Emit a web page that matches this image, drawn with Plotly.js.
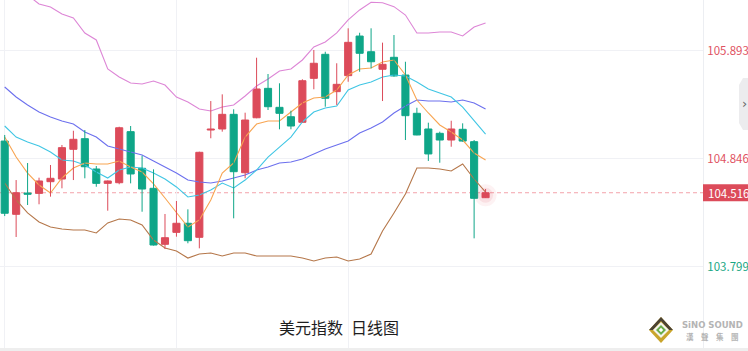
<!DOCTYPE html>
<html>
<head>
<meta charset="utf-8">
<script src="https://cdn.plot.ly/plotly-3.0.1.min.js"></script>
<style>html,body{margin:0;padding:0;background:#fff;}#chart{width:748px;height:351px;}</style>
</head>
<body>
<div id="chart"></div>
<script>
// ---- data ----
const chartTitle = "美元指数\u2002日线图";
const open  = [105.017,104.307,104.513,104.510,104.623,104.649,104.937,105.040,104.746,104.607,104.613,105.108,104.753,104.559,104.016,104.132,104.220,104.084,105.124,105.134,105.276,104.710,105.243,105.528,105.344,105.253,105.199,105.625,105.858,105.496,105.651,106.035,105.883,105.713,105.829,105.657,105.286,105.134,105.092,105.027,105.131,105.011,104.468];
const high  = [105.076,104.639,104.804,104.662,104.785,104.979,105.117,105.124,104.775,104.635,105.156,105.163,104.875,104.743,104.310,104.436,104.355,104.914,105.405,105.470,105.325,105.292,105.825,105.667,105.577,105.311,105.616,105.900,105.883,105.771,106.110,106.067,106.110,105.971,106.045,105.786,105.340,105.195,105.108,105.214,105.189,105.027,104.552];
const low   = [104.290,104.087,104.397,104.404,104.478,104.559,104.639,104.656,104.574,104.342,104.598,104.607,104.332,104.004,103.970,104.090,104.026,103.977,105.044,105.108,104.268,104.656,105.238,105.318,105.131,105.131,105.197,105.519,105.350,105.367,105.592,105.689,105.722,105.405,105.641,105.027,105.073,104.824,104.807,104.962,105.011,104.074,104.465];
const close = [104.317,104.516,104.501,104.630,104.656,104.953,105.034,104.768,104.607,104.630,105.146,104.698,104.552,104.009,104.080,104.220,104.051,104.908,105.134,105.276,104.720,105.221,105.522,105.350,105.286,105.163,105.602,105.771,105.432,105.567,105.974,105.868,105.786,105.761,105.648,105.263,105.076,104.892,105.027,105.134,105.017,104.462,104.516];
const ma5   = [105.056,104.862,104.707,104.591,104.513,104.659,104.756,104.804,104.795,104.795,104.824,104.765,104.717,104.601,104.465,104.320,104.184,104.252,104.446,104.707,104.804,105.056,105.182,105.211,105.211,105.299,105.386,105.434,105.444,105.512,105.657,105.716,105.725,105.783,105.803,105.657,105.415,105.289,105.173,105.105,105.027,104.901,104.833];
const ma10  = [105.163,105.056,105.008,104.969,104.911,104.833,104.824,104.785,104.717,104.659,104.736,104.765,104.756,104.707,104.649,104.572,104.475,104.494,104.542,104.610,104.562,104.639,104.736,104.862,104.959,105.056,105.202,105.299,105.337,105.357,105.512,105.560,105.590,105.638,105.657,105.648,105.590,105.522,105.483,105.444,105.347,105.221,105.085];
const bollMid = [105.541,105.444,105.367,105.299,105.250,105.211,105.182,105.105,105.056,104.969,104.940,104.911,104.882,104.824,104.765,104.707,104.639,104.620,104.610,104.630,104.659,104.688,104.736,104.765,104.804,104.814,104.843,104.892,104.940,104.979,105.018,105.095,105.144,105.202,105.289,105.357,105.415,105.405,105.405,105.396,105.415,105.386,105.328];
const bollUp  = [106.607,106.520,106.433,106.346,106.317,106.249,106.210,106.065,105.997,105.716,105.638,105.580,105.570,105.599,105.560,105.444,105.396,105.328,105.308,105.347,105.367,105.454,105.551,105.619,105.696,105.716,105.803,105.929,105.977,106.065,106.191,106.288,106.362,106.358,106.320,106.239,106.065,106.065,106.074,106.074,106.036,106.123,106.162];
const bollLow = [104.610,104.446,104.320,104.232,104.184,104.164,104.155,104.155,104.126,104.223,104.261,104.252,104.203,104.058,103.980,103.951,103.883,103.922,103.932,103.903,103.932,103.932,103.903,103.903,103.903,103.903,103.883,103.854,103.883,103.893,103.854,103.874,103.922,104.145,104.320,104.504,104.756,104.756,104.746,104.727,104.795,104.649,104.523];
const yTickVals = [105.893, 104.846, 103.799];
const yTickColors = ["#e05262", "#e05262", "#1aa784"];

// ---- styles ----
const RED = "#dc4b5a", GREEN = "#0fa688";
const W = 748, H = 351, ML = 0, MR = 45, MT = 0, MB = 3;
const PW = W - ML - MR, PH = H - MT - MB;
const px = x => (x - ML) / PW;          // pixel -> paper x
const py = y => (PH + MT - y) / PH;     // pixel -> paper y

const idx = open.map((_, i) => i);
const traces = [];

function lineTrace(y, color) {
  return {type: "scatter", mode: "lines", x: idx, y: y, line: {color: color, width: 1.1}, hoverinfo: "skip"};
}
traces.push(lineTrace(bollUp, "#dd86d6"));
traces.push(lineTrace(bollLow, "#b5774a"));
traces.push(lineTrace(bollMid, "#6c70ee"));
traces.push(lineTrace(ma10, "#40c6e4"));
traces.push(lineTrace(ma5, "#f8a552"));

// wicks
function wicks(up) {
  const xs = [], ys = [];
  idx.forEach(i => {
    if ((close[i] >= open[i]) === up) { xs.push(i, i, null); ys.push(low[i], high[i], null); }
  });
  return {type: "scatter", mode: "lines", x: xs, y: ys, line: {color: up ? RED : GREEN, width: 1}, hoverinfo: "skip", connectgaps: false};
}
traces.push(wicks(true));
traces.push(wicks(false));

// glow on latest candle
const last = close.length - 1;
[[22, 0.07], [15, 0.11]].forEach(([s, a]) => {
  traces.push({type: "scatter", mode: "markers", x: [last], y: [(open[last] + close[last]) / 2],
    marker: {size: s, color: "rgba(220,75,90," + a + ")", line: {width: 0}}, hoverinfo: "skip"});
});

// bodies
function bodies(up) {
  const xs = [], base = [], h = [];
  idx.forEach(i => {
    if ((close[i] >= open[i]) === up) {
      xs.push(i); base.push(Math.min(open[i], close[i])); h.push(Math.abs(close[i] - open[i]));
    }
  });
  const c = up ? RED : GREEN;
  return {type: "bar", x: xs, y: h, base: base, width: 0.62,
    marker: {color: c, line: {color: c, width: 1}}, hoverinfo: "skip"};
}
traces.push(bodies(true));
traces.push(bodies(false));

const lastClose = close[last];
const boxHalf = 8.5 * (106.3845 - 103.0108) / PH;

const shapes = [
  {type: "line", xref: "paper", yref: "y", x0: 0, x1: 1, y0: lastClose, y1: lastClose,
   line: {color: "#f3a3ab", width: 1, dash: "4px,3px"}, layer: "below"},
  {type: "rect", xref: "paper", yref: "y", x0: 1, x1: px(W + 2), y0: lastClose - boxHalf, y1: lastClose + boxHalf,
   fillcolor: RED, line: {width: 0}},
  {type: "rect", xref: "paper", yref: "paper", x0: px(0), x1: px(W + 2), y0: py(351), y1: py(348),
   fillcolor: "#eeeeee", line: {width: 0}},
  {type: "path", xref: "paper", yref: "paper",
   path: `M ${px(739)},${py(85)} L ${px(743)},${py(78)} L ${px(749)},${py(78)} L ${px(749)},${py(130)} L ${px(743)},${py(130)} L ${px(739)},${py(123)} Z`,
   fillcolor: "#ececee", line: {width: 0}},
  {type: "path", xref: "paper", yref: "paper",
   path: `M ${px(661)},${py(317)} L ${px(673)},${py(330)} L ${px(661)},${py(343)} L ${px(649)},${py(330)} Z`,
   fillcolor: "#c9a52c", line: {width: 0}},
  {type: "path", xref: "paper", yref: "paper",
   path: `M ${px(649)},${py(330)} L ${px(661)},${py(317)} L ${px(673)},${py(330)} L ${px(669)},${py(330)} L ${px(661)},${py(321)} L ${px(653)},${py(330)} Z`,
   fillcolor: "#4a4234", line: {width: 0}},
  {type: "path", xref: "paper", yref: "paper",
   path: `M ${px(661)},${py(322)} L ${px(669)},${py(330)} L ${px(661)},${py(338)} L ${px(653)},${py(330)} Z`,
   fillcolor: "#f4f4ee", line: {width: 0}},
  {type: "path", xref: "paper", yref: "paper",
   path: `M ${px(661)},${py(325)} L ${px(666)},${py(330)} L ${px(661)},${py(335)} L ${px(656)},${py(330)} Z`,
   fillcolor: "#6aae4a", line: {width: 0}},
  {type: "path", xref: "paper", yref: "paper",
   path: `M ${px(661)},${py(327.8)} L ${px(663.2)},${py(330)} L ${px(661)},${py(332.2)} L ${px(658.8)},${py(330)} Z`,
   fillcolor: "#ffffff", line: {width: 0}}
];

const annotations = [
  {text: lastClose.toFixed(3), xref: "paper", yref: "y", x: 1, y: lastClose, xanchor: "left", yanchor: "middle",
   xshift: 3, showarrow: false, font: {family: "Noto Sans CJK SC", size: 11.5, color: "#ffffff"}},
  {text: chartTitle, xref: "paper", yref: "paper", x: px(339), y: py(327), xanchor: "center", yanchor: "middle",
   showarrow: false, font: {family: "Noto Sans CJK SC", size: 16, color: "#1e1e1e"}},
  {text: "›", xref: "paper", yref: "paper", x: px(745), y: py(103), xanchor: "center", yanchor: "middle",
   showarrow: false, font: {family: "DejaVu Sans", size: 13, color: "#666"}},
  {text: "<b>SiNO SOUND</b>", xref: "paper", yref: "paper", x: px(712), y: py(325), xanchor: "center", yanchor: "middle",
   showarrow: false, font: {family: "DejaVu Sans", size: 8.5, color: "#b4b4b4"}},
  {text: "<b>漢　聲　集　團</b>", xref: "paper", yref: "paper", x: px(712), y: py(336.5), xanchor: "center", yanchor: "middle",
   showarrow: false, font: {family: "Noto Sans CJK TC", size: 7.5, color: "#b4b4b4"}}
];

const layout = {
  width: W, height: H,
  margin: {l: ML, r: MR, t: MT, b: MB, pad: 0},
  paper_bgcolor: "#ffffff", plot_bgcolor: "#ffffff",
  showlegend: false, hovermode: false, barmode: "overlay", bargap: 0,
  xaxis: {range: [-0.41, 60.99], tickvals: [0, 15, 30], showticklabels: false, showgrid: true,
          gridcolor: "#f0f1f5", gridwidth: 1, zeroline: false, showline: false, ticks: "", fixedrange: true},
  yaxis: {range: [103.0108, 106.3845], side: "right", tickvals: yTickVals,
          ticktext: yTickVals.map((v, i) => `<span style="color:${yTickColors[i]}">${v.toFixed(3)}</span>`),
          showgrid: true, gridcolor: "#f0f1f5", gridwidth: 1, zeroline: false, showline: true,
          linecolor: "#eceef2", linewidth: 1, ticks: "", ticklabelstandoff: 1,
          tickfont: {family: "Noto Sans CJK SC", size: 11.5}, fixedrange: true},
  shapes: shapes,
  annotations: annotations
};

Plotly.newPlot("chart", traces, layout, {displayModeBar: false, staticPlot: true});
</script>
</body>
</html>
